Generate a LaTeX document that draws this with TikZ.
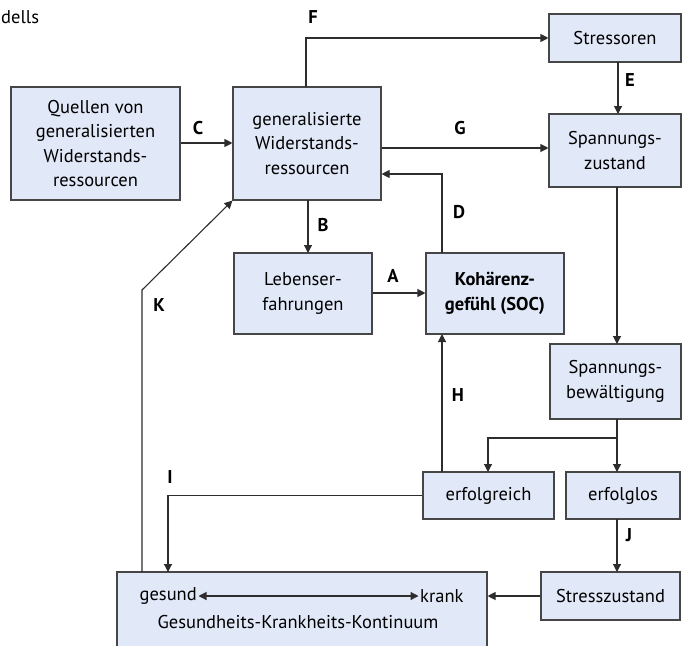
\documentclass[tikz,border=0pt]{standalone}
\usepackage{fontspec}
\setmainfont{PT Sans}
\usetikzlibrary{arrows.meta}
\definecolor{boxfill}{RGB}{225,232,247}
\definecolor{boxline}{RGB}{70,70,70}
\definecolor{conn}{RGB}{45,45,45}
\tikzset{
  box/.style={draw=boxline, fill=boxfill, line width=1.1pt, align=center, inner sep=0pt,
    font=\fontsize{18.5}{24.5}\selectfont},
  conn/.style={draw=conn, line width=1.1pt, -{Triangle[length=8pt,width=8pt]}},
  lbl/.style={font=\fontsize{18.5}{20}\selectfont\bfseries, inner sep=0pt},
  txt/.style={inner sep=0pt, font=\fontsize{18.5}{20}\selectfont},
}
\begin{document}
\begin{tikzpicture}[x=1pt,y=-1pt]
\useasboundingbox (0,0) rectangle (684,645);
\node[txt, anchor=base west] (title) at (1,23) {dells};

\node[box, minimum width=169pt, minimum height=113pt] (Q) at (95.5,143.5) {Quellen von\\generalisierten\\Widerstands-\\ressourcen};
\node[box, minimum width=148pt, minimum height=113pt] (GRR) at (307,143.5) {generalisierte\\Widerstands-\\ressourcen};
\node[box, minimum width=132pt, minimum height=48pt] (Str) at (615,38) {Stressoren};
\node[box, minimum width=132pt, minimum height=73pt] (SpZ) at (615,150.5) {Spannungs-\\zustand};
\node[box, minimum width=138pt, minimum height=81pt] (Leb) at (303,293.5) {Lebenser-\\fahrungen};
\node[box, minimum width=138pt, minimum height=81pt, font=\fontsize{18.5}{24.5}\selectfont\bfseries] (SOC) at (495,293.5) {Kohärenz-\\gefühl (SOC)};
\node[box, minimum width=131pt, minimum height=75pt] (SpB) at (615.5,381.5) {Spannungs-\\bewältigung};
\node[box, minimum width=131pt, minimum height=47pt] (erg) at (488.5,495.5) {erfolgreich};
\node[box, minimum width=114pt, minimum height=47pt] (erl) at (623,495.5) {erfolglos};
\node[box, minimum width=139pt, minimum height=48pt] (Sz) at (610.5,596) {Stresszustand};
\node[box, minimum width=370pt, minimum height=98pt] (GK) at (302,621) {};

\node[txt, anchor=east] (ges) at (197,596) {gesund};
\node[txt, anchor=west] (kr) at (420,596) {krank};
\node[txt] (gkk) at (298,622) {Gesundheits-Krankheits-Kontinuum};
\draw[draw=conn, line width=1.1pt, {Triangle[length=8pt,width=8pt]}-{Triangle[length=8pt,width=8pt]}] ([xshift=1.5pt]ges.east) -- ([xshift=-1.5pt]kr.west);

% connectors
\draw[conn] (Q.east |- 0,143) -- (GRR.west |- 0,143);
\draw[conn] (306,87) |- (Str.west);
\draw[conn] (618,62) -- (618,114);
\draw[conn] (GRR.east |- 0,148) -- (SpZ.west |- 0,148);
\draw[conn] (442,253) |- (GRR.east |- 0,174);
\draw[conn] (308,200) -- (308,253);
\draw[conn] (Leb.east |- 0,293) -- (SOC.west |- 0,293);
\draw[conn] (617,187) -- (617,344);
\draw[conn] (617,419) -- (617,472);
\draw[conn] (617,438) -| (488,472);
\draw[conn] (442,472) -- (442,334);
\draw[conn] (erg.west) -| (168,572);
\draw[conn] (617,519) -- (617,572);
\draw[conn] (Sz.west) -- (GK.east |- Sz.west);
\draw[conn] (142,572) -- (142,290) -- (GRR.south west);

% labels
\node[lbl] (lC) at (198,128) {C};
\node[lbl] (lF) at (313,17) {F};
\node[lbl] (lE) at (630,80) {E};
\node[lbl] (lG) at (460,128) {G};
\node[lbl] (lD) at (459,212) {D};
\node[lbl] (lB) at (323,225) {B};
\node[lbl] (lA) at (393,276) {A};
\node[lbl] (lH) at (458,395) {H};
\node[lbl] (lK) at (159,305) {K};
\node[lbl] (lI) at (170,477) {I};
\node[lbl] (lJ) at (629,535) {J};
\end{tikzpicture}
\end{document}
